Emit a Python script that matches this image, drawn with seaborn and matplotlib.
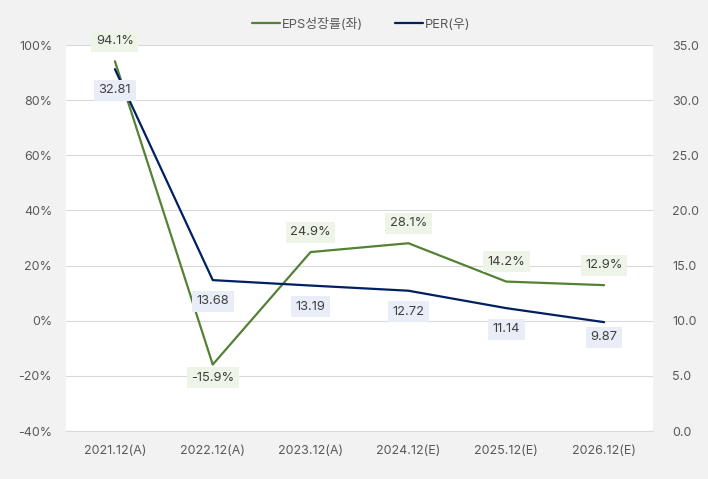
import pandas as pd
import matplotlib.pyplot as plt
import seaborn as sns
from matplotlib.ticker import FuncFormatter

# Data
periods = ['2021.12(A)', '2022.12(A)', '2023.12(A)', '2024.12(E)', '2025.12(E)', '2026.12(E)']
eps_growth = [94.1, -15.9, 24.9, 28.1, 14.2, 12.9]
per = [32.81, 13.68, 13.19, 12.72, 11.14, 9.87]

df = pd.DataFrame({'period': periods, 'eps': eps_growth, 'per': per})

sns.set_style('white')
plt.rcParams['font.family'] = ['Inter', 'Noto Sans CJK KR', 'DejaVu Sans']

green = '#548235'
navy = '#002060'
text_col = '#595959'

fig = plt.figure(figsize=(7.08, 4.79), dpi=100)
fig.patch.set_facecolor('#f2f2f2')
ax = fig.add_axes([66 / 708, 48 / 479, 587 / 708, 386 / 479])
ax.set_facecolor('white')

sns.lineplot(data=df, x='period', y='eps', ax=ax, color=green, linewidth=1.6,
             sort=False, label='EPS성장률(좌)', legend=False)
ax2 = ax.twinx()
sns.lineplot(data=df, x='period', y='per', ax=ax2, color=navy, linewidth=1.6,
             sort=False, label='PER(우)', legend=False)

ax.set_xlim(-0.5, 5.5)
ax.set_ylim(-40, 100)
ax.set_yticks(range(-40, 101, 20))
ax.yaxis.set_major_formatter(FuncFormatter(lambda v, p: f'{v:.0f}%'))
ax2.set_ylim(0, 35)
ax2.set_yticks([0, 5, 10, 15, 20, 25, 30, 35])
ax2.yaxis.set_major_formatter(FuncFormatter(lambda v, p: f'{v:.1f}'))

ax.grid(axis='y', color='#d9d9d9', linewidth=0.8)
ax.set_axisbelow(True)
for a in (ax, ax2):
    for s in a.spines.values():
        s.set_visible(False)
    a.set_xlabel('')
    a.set_ylabel('')
    a.tick_params(length=0, labelsize=9, labelcolor=text_col)
ax.spines['bottom'].set_visible(True)
ax.spines['bottom'].set_color('#d9d9d9')
ax.tick_params(axis='x', pad=10)
ax.tick_params(axis='y', pad=10)
ax2.tick_params(axis='y', pad=14)

# data labels
for i, v in enumerate(eps_growth):
    dy = 13 if v < 0 else -20
    ax.annotate(f'{v:.1f}%', (i, v), xytext=(0, -dy), textcoords='offset pixels',
                ha='center', va='center', fontsize=9.3, color='#404040',
                bbox=dict(boxstyle='square,pad=0.35', fc='#eef5e8', ec='none'), zorder=5)
for i, v in enumerate(per):
    dy = 15 if i == 5 else 21
    ax2.annotate(f'{v:.2f}', (i, v), xytext=(0, -dy), textcoords='offset pixels',
                 ha='center', va='center', fontsize=9.3, color='#404040',
                 bbox=dict(boxstyle='square,pad=0.35', fc='#e9edf7', ec='none'), zorder=5)

h1, l1 = ax.get_legend_handles_labels()
h2, l2 = ax2.get_legend_handles_labels()
fig.legend(h1 + h2, l1 + l2, loc='center', bbox_to_anchor=(0.51, 1 - 24 / 479), ncol=2,
           frameon=False, fontsize=9.3, labelcolor=text_col, handlelength=2.2,
           handletextpad=0.1, columnspacing=2.5)

fig.savefig('out.png', dpi=100, facecolor=fig.get_facecolor())
